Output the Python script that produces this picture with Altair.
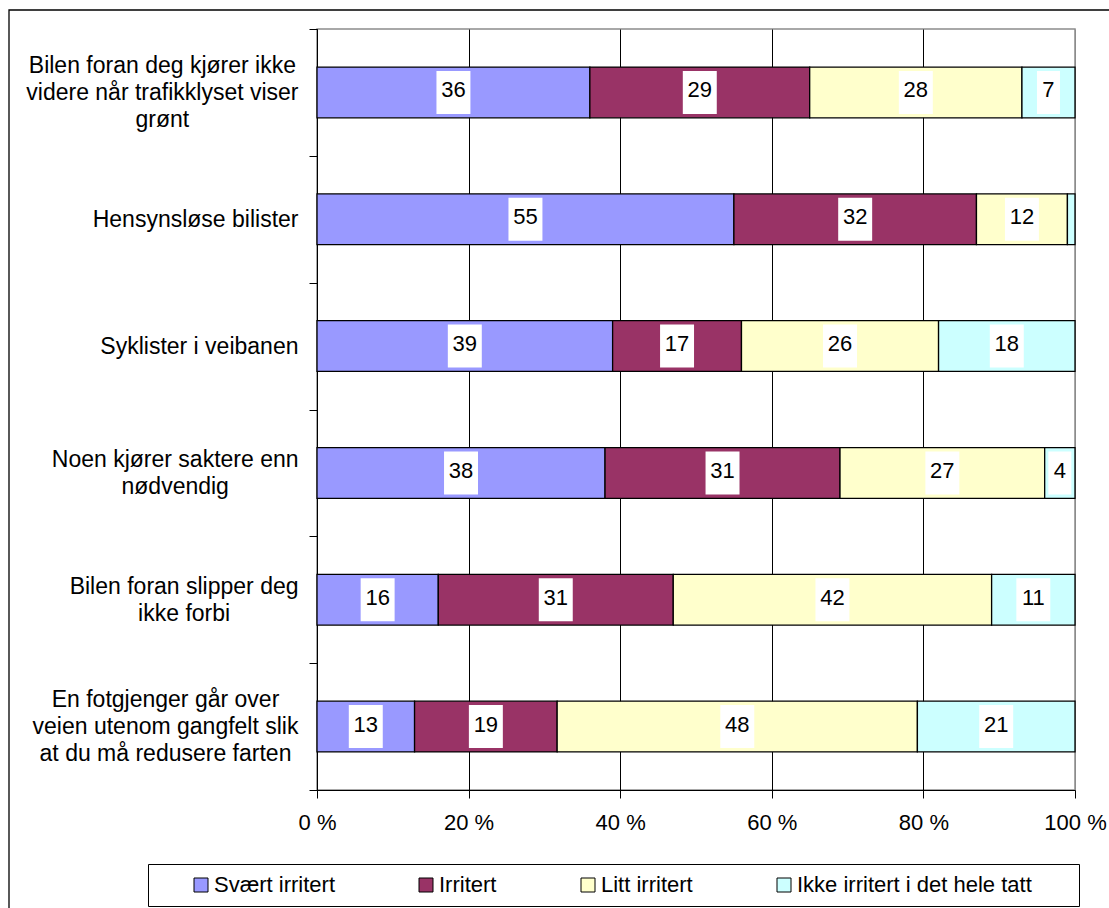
import json

import altair as alt
import pandas as pd

# ---- data -------------------------------------------------------------
categories = [
    "Bilen foran deg kjører ikke|videre når trafikklyset viser|grønt",
    "Hensynsløse bilister",
    "Syklister i veibanen",
    "Noen kjører saktere enn|nødvendig",
    "Bilen foran slipper deg|ikke forbi",
    "En fotgjenger går over|veien utenom gangfelt slik|at du må redusere farten",
]
series = ["Svært irritert", "Irritert", "Litt irritert", "Ikke irritert i det hele tatt"]
svaert_irritert = [36, 55, 39, 38, 16, 13]
irritert = [29, 32, 17, 31, 31, 19]
litt_irritert = [28, 12, 26, 27, 42, 48]
ikke_irritert = [7, 1, 18, 4, 11, 21]
colors = ["#9999FF", "#993366", "#FFFFCC", "#CCFFFF"]
x_ticks = [0, 0.2, 0.4, 0.6, 0.8, 1.0]

FONT = "Liberation Sans"

rows = []
for s_idx, (name, vals) in enumerate(
    zip(series, [svaert_irritert, irritert, litt_irritert, ikke_irritert])
):
    for cat, v in zip(categories, vals):
        rows.append({"category": cat, "series": name, "order": s_idx, "value": v})
df = pd.DataFrame(rows)

# ---- category label placement: lines centred, block right-aligned -------
ARIAL = {' ': 278, 'a': 556, 'b': 556, 'c': 500, 'd': 556, 'e': 556, 'f': 278,
         'g': 556, 'h': 556, 'i': 222, 'j': 222, 'k': 500, 'l': 222, 'm': 833,
         'n': 556, 'o': 556, 'p': 556, 'r': 333, 's': 500, 't': 278, 'u': 556,
         'v': 500, 'y': 500, 'å': 556, 'ø': 611, 'æ': 889, 'B': 667, 'E': 667,
         'H': 722, 'N': 722, 'S': 667}
Y_LABEL_SIZE = 23
LINE_HEIGHT = 27
TICK = 8
GAP = 11  # space between the widest line and the tick marks


def text_width(s, size):
    return sum(ARIAL.get(ch, 556) for ch in s) * size / 1000.0


pad_conditions = []
shift_conditions = []
for cat in categories:
    lines = cat.split("|")
    widest = max(text_width(line, Y_LABEL_SIZE) for line in lines)
    test = f"datum.value === {json.dumps(cat)}"
    pad_conditions.append({"test": test, "value": round(GAP + widest / 2, 1)})
    # centre the whole block of lines on the band
    shift_conditions.append({"test": test, "value": -(len(lines) - 1) * LINE_HEIGHT / 2})
label_padding = {"condition": pad_conditions, "value": 140}
label_shift = {"condition": shift_conditions, "value": 0}

# ---- chart ------------------------------------------------------------
base = alt.Chart(df).transform_stack(
    stack="value",
    groupby=["category"],
    sort=[alt.SortField("order", order="ascending")],
    as_=["x0", "x1"],
    offset="normalize",
).transform_calculate(mid="(datum.x0 + datum.x1) / 2")

y_scale = alt.Scale(paddingInner=0, paddingOuter=0)
y_enc = alt.Y(
    "category:N",
    sort=categories,
    title=None,
    scale=y_scale,
    axis=alt.Axis(
        tickBand="extent",
        tickSize=TICK,
        tickColor="black",
        domainColor="black",
        grid=False,
        labelExpr="split(datum.label, '|')",
        labelAlign="center",
        labelBaseline="middle",
        labelFont=FONT,
        labelFontSize=Y_LABEL_SIZE,
        labelLineHeight=LINE_HEIGHT,
        labelColor="black",
        labelLimit=600,
        labelPadding=label_padding,
        labelOffset=label_shift,
    ),
)

x_scale = alt.Scale(domain=[0, 1], nice=False, zero=True)

bars = base.mark_bar(stroke="black", strokeWidth=1.3, height={"band": 0.4}).encode(
    x=alt.X(
        "x0:Q",
        scale=x_scale,
        title=None,
        axis=alt.Axis(
            values=x_ticks,
            labelExpr="round(datum.value * 100) + ' %'",
            grid=True,
            gridColor={"condition": {"test": "datum.value >= 1", "value": "#8c8c8c"}, "value": "black"},
            gridWidth=1,
            tickSize=TICK,
            tickColor="black",
            domainColor="black",
            labelFont=FONT,
            labelFontSize=22,
            labelColor="black",
            labelPadding=14,
            labelFlush=False,
        ),
    ),
    x2="x1:Q",
    y=y_enc,
    color=alt.Color(
        "series:N",
        sort=series,
        scale=alt.Scale(domain=series, range=colors),
        legend=alt.Legend(
            title="\u00a0",
            titleOrient="right",
            titlePadding=37,
            titleFontSize=22,
            orient="none",
            legendX=-169,
            legendY=835,
            direction="horizontal",
            symbolType="square",
            symbolSize=196,
            symbolStrokeColor="black",
            symbolStrokeWidth=1,
            symbolOffset=32,
            labelOffset=2,
            columnPadding=48,
            labelFont=FONT,
            labelFontSize=22,
            labelColor="black",
            labelLimit=400,
            strokeColor="black",
            fillColor="white",
            padding=10,
        ),
    ),
    order=alt.Order("order:Q"),
)

# white label backgrounds, narrower for single digits
wide_box = "M-0.79,-1L0.79,-1L0.79,1L-0.79,1Z"
narrow_box = "M-0.535,-1L0.535,-1L0.535,1L-0.535,1Z"
labelled = base.transform_filter("datum.value > 1")

boxes = labelled.mark_point(filled=True, color="white", opacity=1, strokeWidth=0, size=1849).encode(
    x=alt.X("mid:Q", scale=x_scale),
    y=alt.Y("category:N", sort=categories, scale=y_scale),
    shape=alt.condition("datum.value < 10", alt.value(narrow_box), alt.value(wide_box)),
)

labels = labelled.mark_text(
    font=FONT, fontSize=22, color="black", align="center", baseline="middle", dy=-2
).encode(
    x=alt.X("mid:Q", scale=x_scale),
    y=alt.Y("category:N", sort=categories, scale=y_scale),
    text=alt.Text("value:Q"),
)

frame = alt.Chart(alt.Data(values=[{}])).mark_rect(
    filled=False, stroke="black", strokeWidth=1.3
).encode(
    x=alt.value(-308), x2=alt.value(1200), y=alt.value(-19), y2=alt.value(1200)
)

chart = (
    alt.layer(frame, bars, boxes, labels)
    .properties(
        width=758,
        height=761,
        autosize=alt.AutoSizeParams(type="none"),
        padding={"left": 317, "top": 29, "right": 34, "bottom": 118},
    )
    .configure_view(stroke="#8c8c8c", strokeWidth=1.5)
)

chart.save("out.html", embed_options={"renderer": "svg", "actions": False})
